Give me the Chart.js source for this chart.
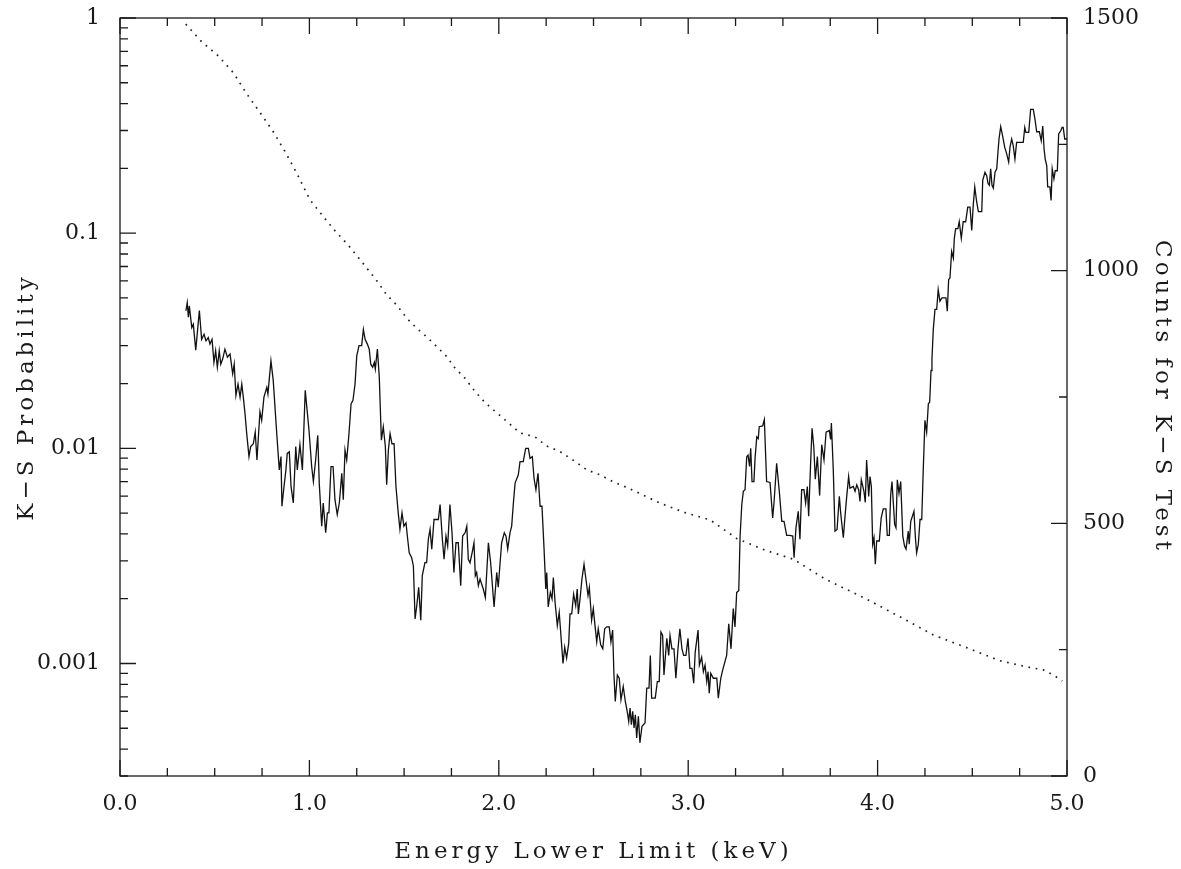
<!DOCTYPE html>
<html>
<head>
<meta charset="utf-8">
<script src="https://cdn.jsdelivr.net/npm/chart.js@4.4.1/dist/chart.umd.min.js"></script>
<style>
  html, body { margin: 0; padding: 0; background: #fff; }
  canvas { display: block; }
</style>
</head>
<body>
<canvas id="ks" width="1181" height="869"></canvas>
<script>
// K-S probability versus the lower energy cut (keV)
const energyKeV = [
  0.348,0.355,0.361,0.366,0.379,0.387,0.400,0.419,0.431,0.444,0.454,0.466,0.475,0.486,0.496,0.505,0.514,0.524,0.532,0.542,
  0.554,0.567,0.581,0.595,0.603,0.612,0.623,0.634,0.643,0.651,0.660,0.669,0.681,0.690,0.704,0.714,0.723,0.739,0.748,0.760,
  0.775,0.781,0.797,0.809,0.827,0.841,0.850,0.855,0.866,0.876,0.883,0.894,0.903,0.915,0.928,0.936,0.950,0.963,0.978,0.998,
  1.012,1.021,1.033,1.044,1.052,1.065,1.073,1.086,1.095,1.103,1.114,1.125,1.135,1.147,1.158,1.171,1.179,1.188,1.197,1.209,
  1.220,1.230,1.241,1.250,1.262,1.276,1.285,1.294,1.306,1.316,1.324,1.334,1.343,1.348,1.359,1.369,1.380,1.390,1.401,1.408,
  1.417,1.426,1.436,1.447,1.457,1.469,1.478,1.489,1.499,1.510,1.519,1.527,1.540,1.549,1.558,1.567,1.577,1.588,1.596,1.610,
  1.619,1.628,1.637,1.646,1.658,1.668,1.681,1.690,1.702,1.711,1.721,1.730,1.742,1.753,1.763,1.774,1.786,1.799,1.809,1.822,
  1.831,1.839,1.848,1.859,1.869,1.876,1.883,1.892,1.901,1.918,1.929,1.945,1.957,1.975,1.989,1.997,2.015,2.029,2.038,2.047,
  2.059,2.068,2.077,2.086,2.103,2.112,2.129,2.142,2.156,2.165,2.177,2.186,2.196,2.207,2.218,2.228,2.239,2.248,2.253,2.261,
  2.272,2.281,2.288,2.297,2.309,2.319,2.328,2.339,2.348,2.358,2.369,2.376,2.385,2.395,2.406,2.414,2.420,2.429,2.439,2.450,
  2.460,2.471,2.478,2.490,2.499,2.508,2.517,2.525,2.538,2.549,2.559,2.570,2.583,2.592,2.601,2.608,2.615,2.626,2.636,2.645,
  2.657,2.668,2.678,2.686,2.693,2.700,2.707,2.714,2.721,2.728,2.737,2.745,2.756,2.772,2.781,2.793,2.800,2.807,2.826,2.837,
  2.847,2.856,2.865,2.872,2.887,2.897,2.904,2.914,2.925,2.935,2.946,2.956,2.967,2.976,2.988,2.999,3.009,3.020,3.029,3.037,
  3.052,3.059,3.071,3.080,3.089,3.098,3.105,3.111,3.119,3.133,3.151,3.159,3.172,3.182,3.194,3.203,3.214,3.226,3.238,3.247,
  3.256,3.267,3.274,3.283,3.291,3.300,3.309,3.316,3.324,3.330,3.337,3.347,3.353,3.362,3.370,3.375,3.393,3.402,3.414,3.432,
  3.446,3.453,3.467,3.481,3.494,3.506,3.520,3.537,3.552,3.559,3.569,3.581,3.590,3.599,3.611,3.620,3.629,3.636,3.647,3.654,
  3.663,3.671,3.682,3.694,3.705,3.717,3.728,3.745,3.752,3.756,3.766,3.775,3.786,3.798,3.805,3.819,3.828,3.837,3.847,3.854,
  3.872,3.881,3.890,3.900,3.907,3.914,3.928,3.935,3.942,3.953,3.960,3.967,3.974,3.981,3.988,3.995,4.009,4.019,4.030,4.044,
  4.051,4.062,4.069,4.076,4.083,4.090,4.097,4.104,4.113,4.122,4.133,4.142,4.150,4.162,4.167,4.175,4.192,4.199,4.206,4.215,
  4.224,4.233,4.241,4.250,4.259,4.268,4.275,4.282,4.287,4.294,4.303,4.312,4.320,4.329,4.340,4.361,4.368,4.375,4.382,4.391,
  4.400,4.405,4.412,4.424,4.431,4.442,4.452,4.465,4.476,4.488,4.497,4.505,4.513,4.523,4.532,4.550,4.555,4.567,4.576,4.583,
  4.590,4.597,4.604,4.611,4.620,4.629,4.634,4.641,4.650,4.660,4.671,4.682,4.692,4.699,4.708,4.716,4.725,4.734,4.752,4.769,
  4.777,4.783,4.798,4.808,4.822,4.831,4.840,4.854,4.864,4.872,4.879,4.885,4.893,4.898,4.910,4.916,4.922,4.931,4.938,4.949,
  4.956,4.967,4.974,4.980,4.988,5.000
];

const ksProbability = [
  0.0436,0.0475,0.0407,0.0459,0.0364,0.0377,0.0286,0.0437,0.0321,0.0339,0.0316,0.0327,0.0305,0.0321,0.0251,0.0284,0.0238,0.0284,0.0246,0.0260,
  0.0289,0.0265,0.0274,0.0222,0.0246,0.0176,0.0199,0.0173,0.0199,0.0173,0.0145,0.0117,0.00915,0.0102,0.0105,0.0119,0.00883,0.0148,0.0135,0.0173,
  0.0192,0.0179,0.0255,0.0207,0.0119,0.00794,0.00915,0.00538,0.00665,0.00794,0.00947,0.00964,0.00665,0.00557,0.0102,0.00794,0.0104,0.00794,0.0186,0.0121,
  0.00823,0.00701,0.00883,0.0115,0.00689,0.00435,0.00557,0.00405,0.00501,0.00501,0.00823,0.00823,0.00577,0.00492,0.00557,0.00766,0.00577,0.00982,0.00883,0.0117,
  0.0161,0.0167,0.0199,0.0269,0.0300,0.0300,0.0357,0.0321,0.0305,0.0289,0.0246,0.0238,0.0251,0.0234,0.0289,0.0214,0.0109,0.0126,0.0102,0.00677,
  0.00982,0.0117,0.0105,0.0105,0.00665,0.00501,0.00420,0.00501,0.00435,0.00450,0.00378,0.00327,0.00310,0.00284,0.00161,0.00186,0.00226,0.00159,0.00256,0.00294,
  0.00294,0.00378,0.00420,0.00340,0.00467,0.00467,0.00467,0.00548,0.00378,0.00305,0.00391,0.00352,0.00548,0.00405,0.00265,0.00364,0.00364,0.00230,0.00391,0.00405,
  0.00435,0.00305,0.00294,0.00327,0.00364,0.00256,0.00265,0.00230,0.00247,0.00222,0.00203,0.00364,0.00294,0.00183,0.00265,0.00226,0.00364,0.00405,0.00391,0.00340,
  0.00405,0.00435,0.00557,0.00689,0.00753,0.00867,0.00867,0.0100,0.0100,0.00898,0.00915,0.00726,0.00642,0.00766,0.00538,0.00538,0.00340,0.00222,0.00265,0.00183,
  0.00214,0.00200,0.00251,0.00193,0.00150,0.00173,0.00135,0.00100,0.00119,0.00106,0.00124,0.00170,0.00170,0.00210,0.00186,0.00222,0.00170,0.00200,0.00247,0.00289,
  0.00247,0.00207,0.00226,0.00159,0.00180,0.00150,0.00126,0.00145,0.00122,0.00117,0.00145,0.00148,0.00148,0.00126,0.00143,0.000884,0.000666,0.000884,0.000854,0.000678,
  0.000781,0.000666,0.000599,0.000538,0.000621,0.000520,0.000599,0.000502,0.000578,0.000451,0.000568,0.000428,0.000511,0.000529,0.000768,0.000768,0.00109,0.000690,0.000690,0.000824,
  0.000824,0.00140,0.00135,0.000884,0.00131,0.00109,0.00135,0.00117,0.00117,0.000854,0.00117,0.00145,0.00117,0.00109,0.00109,0.00131,0.000949,0.000949,0.000809,0.00113,
  0.00143,0.000983,0.00107,0.000916,0.000983,0.000824,0.000916,0.000728,0.000900,0.000854,0.000854,0.000690,0.000854,0.000932,0.00102,0.00109,0.00153,0.00117,0.00180,0.00148,
  0.00214,0.00218,0.00391,0.00548,0.00631,0.00642,0.00915,0.00931,0.00823,0.0100,0.00701,0.00701,0.00898,0.0113,0.0111,0.0126,0.0127,0.0136,0.00701,0.00694,
  0.00475,0.00557,0.00852,0.00631,0.00458,0.00458,0.00394,0.00394,0.00391,0.00310,0.00427,0.00510,0.00378,0.00642,0.00642,0.00557,0.00665,0.00484,0.00883,0.0124,
  0.0102,0.00719,0.00915,0.00603,0.0104,0.00883,0.0119,0.0121,0.0110,0.0131,0.00794,0.00412,0.00420,0.00598,0.00501,0.00384,0.00484,0.00598,0.00740,0.00653,
  0.00665,0.00631,0.00677,0.00642,0.00567,0.00714,0.00631,0.00561,0.00883,0.00598,0.00740,0.00665,0.00358,0.00384,0.00289,0.00371,0.00371,0.00475,0.00523,0.00523,
  0.00394,0.00394,0.00609,0.00701,0.00557,0.00443,0.00427,0.00714,0.00619,0.00701,0.00391,0.00352,0.00340,0.00412,0.00358,0.00458,0.00510,0.00391,0.00327,0.00358,
  0.00467,0.00467,0.00794,0.0135,0.0119,0.0161,0.0164,0.0230,0.0260,0.0357,0.0442,0.0442,0.0547,0.0483,0.0500,0.0500,0.0434,0.0608,0.0619,0.0822,
  0.0765,0.0946,0.105,0.105,0.113,0.0946,0.113,0.113,0.132,0.132,0.103,0.135,0.164,0.140,0.126,0.126,0.176,0.192,0.185,0.170,
  0.167,0.199,0.167,0.162,0.192,0.199,0.229,0.274,0.313,0.283,0.251,0.233,0.214,0.251,0.274,0.255,0.221,0.264,0.264,0.264,
  0.310,0.294,0.294,0.376,0.376,0.338,0.296,0.296,0.269,0.315,0.246,0.221,0.206,0.164,0.164,0.142,0.199,0.179,0.195,0.195,
  0.289,0.299,0.310,0.310,0.274,0.274
];

// number of counts left above each energy cut
const countEnergyKeV = [
  0.347,0.431,0.519,0.598,0.669,0.739,0.809,0.871,0.933,1.003,1.067,1.130,1.204,1.278,1.364,1.408,1.461,1.514,1.567,1.619,
  1.672,1.725,1.769,1.822,1.874,1.927,1.989,2.050,2.112,2.191,2.253,2.323,2.393,2.464,2.534,2.605,2.675,2.745,2.851,2.992,
  3.115,3.256,3.405,3.555,3.722,3.942,4.118,4.294,4.470,4.646,4.787,4.875,4.928,4.975
];
const ksCounts = [
  1488,1453,1425,1392,1350,1313,1275,1236,1193,1140,1110,1081,1051,1017,976,952,932,906,886,869,
  850,830,807,787,761,739,719,699,679,671,653,642,625,606,596,582,571,559,540,520,
  507,470,447,429,390,350,315,279,254,228,216,210,200,188
];

// labelled tick values
const energyTicks = [0, 1, 2, 3, 4, 5];
const probabilityTicks = [0.001, 0.01, 0.1, 1];
const countTicks = [0, 500, 1000, 1500];

const FONT = "'DejaVu Serif', 'Liberation Serif', serif";
const INK = '#1a1a1a';

function toPoints(xs, ys) {
  const n = Math.min(xs.length, ys.length);
  const out = [];
  for (let i = 0; i < n; i++) out.push({ x: xs[i], y: ys[i] });
  return out;
}

// frame box plus inward major/minor tick marks on all four sides
const frameTicks = {
  id: 'frameTicks',
  afterDraw(chart) {
    const { ctx, chartArea: a, scales } = chart;
    const xs = scales.x, yl = scales.yProb, yr = scales.yCount;
    const major = 16, minor = 8;
    ctx.save();
    ctx.strokeStyle = INK;
    ctx.lineWidth = 1.3;
    ctx.strokeRect(a.left, a.top, a.right - a.left, a.bottom - a.top);
    ctx.beginPath();
    for (let i = 0; i <= 20; i++) {
      const px = xs.getPixelForValue(i * 0.25);
      const len = i % 4 === 0 ? major : minor;
      ctx.moveTo(px, a.bottom); ctx.lineTo(px, a.bottom - len);
      ctx.moveTo(px, a.top); ctx.lineTo(px, a.top + len);
    }
    for (let e = -4; e <= 0; e++) {
      for (let m = 1; m <= 9; m++) {
        const v = m * Math.pow(10, e);
        if (v < yl.min * 0.999 || v > yl.max * 1.001) continue;
        const py = yl.getPixelForValue(v);
        ctx.moveTo(a.left, py); ctx.lineTo(a.left + (m === 1 ? major : minor), py);
      }
    }
    for (let c = 0; c <= 1500; c += 250) {
      const py = yr.getPixelForValue(c);
      ctx.moveTo(a.right, py); ctx.lineTo(a.right - (c % 500 === 0 ? major : minor), py);
    }
    ctx.stroke();
    ctx.restore();
  }
};

// wider letter spacing for the axis titles
const titleSpacing = {
  id: 'titleSpacing',
  beforeDraw(chart) {
    Object.values(chart.scales).forEach(s => {
      if (s._spacedTitle) return;
      const orig = s.drawTitle;
      s.drawTitle = function () {
        const c = this.ctx;
        c.save();
        c.letterSpacing = '4px';
        orig.call(this);
        c.restore();
      };
      s._spacedTitle = true;
    });
  }
};

const tickFont = { family: FONT, size: 22 };
const titleFont = { family: FONT, size: 23 };
// invisible outer tick marks: they only set the gap between frame and labels
const hiddenGrid = len => ({
  display: true, drawOnChartArea: false, drawTicks: true,
  tickLength: len, color: 'rgba(0,0,0,0)', tickColor: 'rgba(0,0,0,0)'
});

new Chart(document.getElementById('ks'), {
  type: 'line',
  data: {
    datasets: [
      {
        label: 'K−S Probability',
        data: toPoints(energyKeV, ksProbability),
        yAxisID: 'yProb',
        borderColor: '#111',
        borderWidth: 1.3,
        pointRadius: 0,
        tension: 0,
        fill: false
      },
      {
        label: 'Counts for K−S Test',
        data: toPoints(countEnergyKeV, ksCounts),
        yAxisID: 'yCount',
        borderColor: '#222',
        borderWidth: 1.7,
        borderDash: [1.7, 5.6],
        borderCapStyle: 'butt',
        pointRadius: 0,
        tension: 0,
        fill: false
      }
    ]
  },
  options: {
    responsive: false,
    animation: false,
    devicePixelRatio: 1,
    layout: { padding: { top: 18, left: 0, right: 0, bottom: 0 } },
    plugins: { legend: { display: false }, tooltip: { enabled: false } },
    scales: {
      x: {
        type: 'linear',
        position: 'bottom',
        min: 0,
        max: 5,
        afterBuildTicks: s => { s.ticks = energyTicks.map(v => ({ value: v })); },
        afterFit: s => { s.height = 93; },
        grid: { display: false },
        border: { display: false },
        ticks: {
          padding: 7, color: INK, font: tickFont, maxRotation: 0, autoSkip: false,
          callback: v => Number(v).toFixed(1)
        },
        title: {
          display: true, text: 'Energy Lower Limit (keV)', color: INK, font: titleFont,
          padding: { top: 0, bottom: 3 }
        }
      },
      yProb: {
        type: 'logarithmic',
        position: 'left',
        min: Math.pow(10, -3.5),
        max: 1,
        afterBuildTicks: s => { s.ticks = probabilityTicks.map(v => ({ value: v })); },
        afterFit: s => { s.width = 120; },
        grid: hiddenGrid(17),
        border: { display: false },
        ticks: {
          padding: 3, color: INK, font: tickFont, autoSkip: false,
          callback: v => String(v)
        },
        title: {
          display: true, text: 'K−S Probability', color: INK, font: titleFont,
          padding: { top: 13, bottom: 0 }
        }
      },
      yCount: {
        type: 'linear',
        position: 'right',
        min: 0,
        max: 1500,
        afterBuildTicks: s => { s.ticks = countTicks.map(v => ({ value: v })); },
        afterFit: s => { s.width = 114; },
        grid: hiddenGrid(13),
        border: { display: false },
        ticks: {
          padding: 3, color: INK, font: tickFont, autoSkip: false,
          callback: v => String(v)
        },
        title: {
          display: true, text: 'Counts for K−S Test', color: INK, font: titleFont,
          padding: { top: 5, bottom: 0 }
        }
      }
    }
  },
  plugins: [titleSpacing, frameTicks]
});
</script>
</body>
</html>
